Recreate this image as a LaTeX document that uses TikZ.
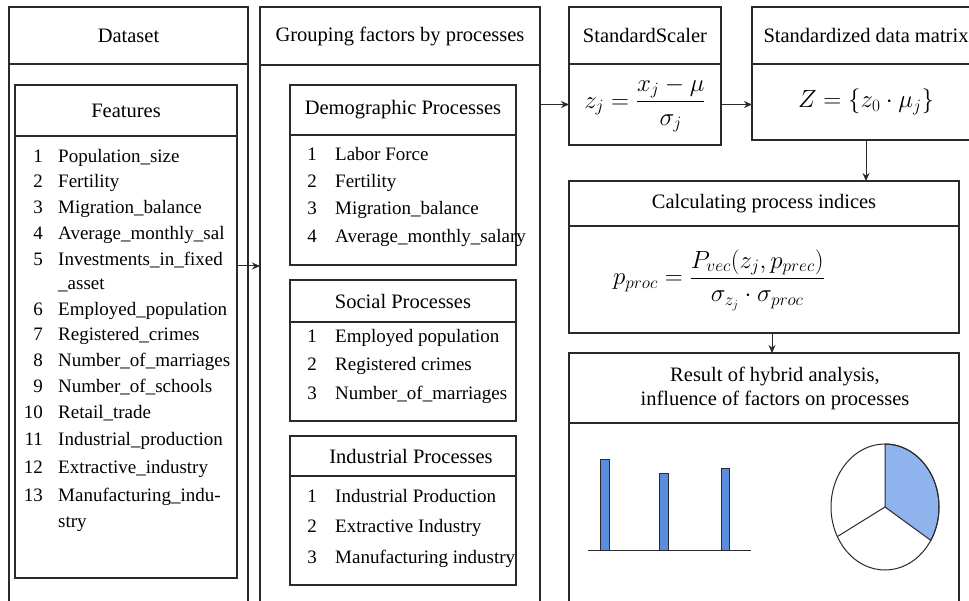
\documentclass[tikz,border=0pt]{standalone}
\usepackage{fontspec}
\setmainfont{Liberation Serif}
\usepackage{amsmath}
\usetikzlibrary{positioning,arrows.meta}
\definecolor{framegray}{HTML}{2A2A2A}
\definecolor{barblue}{HTML}{5A8CE0}
\definecolor{pieblue}{HTML}{8FB3EC}

\tikzset{
  box/.style={draw=framegray, line width=1.1pt, outer sep=0pt, inner sep=0pt, fill=white},
  head/.style={box, font=\fontsize{20.5}{24}\selectfont},
  item/.style={inner sep=0pt, font=\fontsize{19}{24}\selectfont},
  formula/.style={inner sep=0pt, font=\fontsize{25}{28}\selectfont},
  arr/.style={draw=framegray, line width=1pt, -{Stealth[length=8pt,width=7pt]}},
  bar/.style={fill=barblue, draw=framegray, line width=0.8pt}
}

\begin{document}
\begin{tikzpicture}[x=1pt, y=-1pt]
  \clip (0,0) rectangle (969,601);
  \fill[white] (0,0) rectangle (969,601);

  \node[head, anchor=north west, minimum width=239pt, minimum height=57pt] (dsh) at (9,7) {Dataset};
  \node[box, below=0pt of dsh, minimum width=239pt, minimum height=600pt] (dsb) {};
  \node[head, anchor=north west, minimum width=222pt, minimum height=51pt] (feh) at (15,85) {Features};
  \node[box, below=0pt of feh, minimum width=222pt, minimum height=442pt] (feb) {};
  \foreach \n/\y/\t [count=\k] in {1/160/Population\_size, 2/185/Fertility, 3/211/Migration\_balance,
      4/237/Average\_monthly\_sal, 5/263/Investments\_in\_fixed, /287/\_asset,
      6/313/Employed\_population, 7/338/Registered\_crimes, 8/364/Number\_of\_marriages,
      9/390/Number\_of\_schools, 10/416/Retail\_trade, 11/443/Industrial\_production,
      12/471/Extractive\_industry, 13/499/Manufacturing\_indu-, /525/stry}{
    \node[item, anchor=mid east] (fn\k) at (43,\y) {\n};
    \node[item, anchor=mid west] (ft\k) at (58,\y) {\t};
  }

  \node[head, anchor=north west, minimum width=280pt, minimum height=58pt] (grh) at (260,7) {Grouping factors by processes};
  \node[box, below=0pt of grh, minimum width=280pt, minimum height=600pt] (grb) {};

  \node[head, anchor=north west, minimum width=226pt, minimum height=50pt] (deh) at (290,85) {Demographic Processes};
  \node[box, below=0pt of deh, minimum width=226pt, minimum height=130pt] (deb) {};
  \foreach \n/\y/\t in {1/158/Labor Force, 2/185/Fertility, 3/212/Migration\_balance, 4/240/Average\_monthly\_salary}{
    \node[item, anchor=mid east] (dn\n) at (317,\y) {\n};
    \node[item, anchor=mid west] (dt\n) at (335,\y) {\t};
  }

  \node[head, anchor=north west, minimum width=226pt, minimum height=42pt] (soh) at (290,280) {Social Processes};
  \node[box, below=0pt of soh, minimum width=226pt, minimum height=99pt] (sob) {};
  \foreach \n/\y/\t in {1/340/Employed population, 2/368/Registered crimes, 3/397/Number\_of\_marriages}{
    \node[item, anchor=mid east] (sn\n) at (317,\y) {\n};
    \node[item, anchor=mid west] (st\n) at (335,\y) {\t};
  }

  \node[head, anchor=north west, minimum width=226pt, minimum height=40pt] (inh) at (290,436) {\hspace{16pt}Industrial Processes};
  \node[box, below=0pt of inh, minimum width=226pt, minimum height=109pt] (inb) {};
  \foreach \n/\y/\t in {1/500/Industrial Production, 2/530/Extractive Industry, 3/561/Manufacturing industry}{
    \node[item, anchor=mid east] (in\n) at (317,\y) {\n};
    \node[item, anchor=mid west] (it\n) at (335,\y) {\t};
  }

  \node[head, anchor=north west, minimum width=152pt, minimum height=57pt] (sch) at (569,7) {StandardScaler};
  \node[box, below=0pt of sch, minimum width=152pt, minimum height=81pt, font=\fontsize{24}{28}\selectfont] (scb)
    {$\displaystyle z_j=\frac{x_j-\mu}{\sigma_j}$};

  \node[head, anchor=north west, minimum width=228pt, minimum height=57pt] (mah) at (752,7) {Standardized data matrix};
  \node[box, below=0pt of mah, minimum width=228pt, minimum height=76pt, font=\fontsize{24}{28}\selectfont] (mab)
    {$Z=\{z_0\cdot\mu_j\}$};

  \node[head, anchor=north west, minimum width=390pt, minimum height=45pt] (cah) at (569,181) {Calculating process indices};
  \node[box, below=0pt of cah, minimum width=390pt, minimum height=107pt] (cab) {};
  \node[formula] (pform) at (719,280)
    {$\displaystyle p_{proc}=\frac{P_{vec}(z_j,p_{prec})}{\sigma_{z_j}\cdot\sigma_{proc}}$};

  \node[head, anchor=north west, minimum width=390pt, minimum height=70pt, align=center] (reh) at (569,353)
    {\hspace{22pt}Result of hybrid analysis,\\\hspace{22pt}influence of factors on processes};
  \node[box, below=0pt of reh, minimum width=390pt, minimum height=400pt] (reb) {};

  \draw[framegray, line width=1pt] (588,550) -- (751,550);
  \draw[bar] (600,550) rectangle (609,459);
  \draw[bar] (659,550) rectangle (668,473);
  \draw[bar] (721,550) rectangle (729,468);

  \coordinate (pc) at (885,507);
  \filldraw[fill=pieblue, draw=framegray, line width=1pt] (pc) -- ++(90:54pt and 63pt)
    arc[start angle=90, end angle=-32, x radius=54pt, y radius=63pt] -- cycle;
  \draw[framegray, line width=1pt] (pc) ellipse [x radius=54pt, y radius=63pt];
  \draw[framegray, line width=1pt] (pc) -- ++(-152:54pt and 63pt);

  \path ([yshift=91pt]feb.east) coordinate (fout);
  \draw[arr] (fout) -- (fout -| grb.west);
  \draw[arr] (scb.west -| grb.east) -- (scb.west);
  \draw[arr] (scb.east) -- (scb.east -| mab.west);
  \draw[arr] (mab.south) -- (mab.south |- cah.north);
  \path ([xshift=8pt]cab.south) coordinate (cout);
  \draw[arr] (cout) -- (cout |- reh.north);
\end{tikzpicture}
\end{document}
